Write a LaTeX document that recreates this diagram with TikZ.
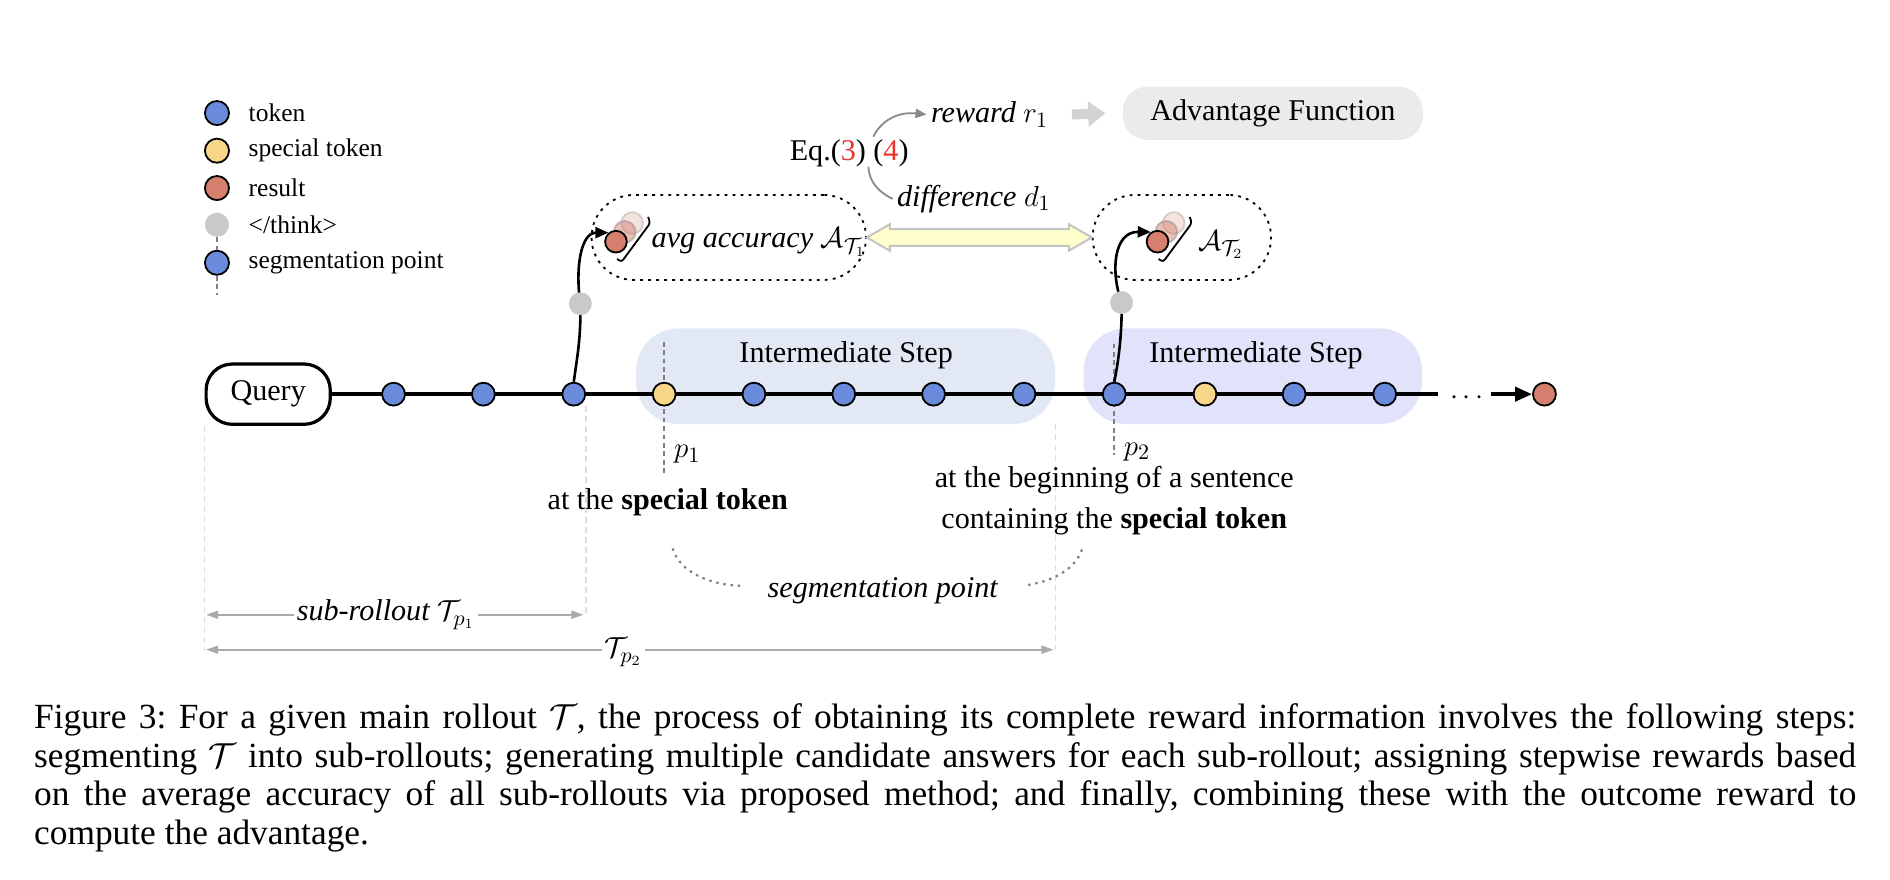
\documentclass[tikz,border=0pt]{standalone}
\usepackage[no-math]{fontspec}
\setmainfont{Liberation Serif}
\usetikzlibrary{arrows.meta,calc}
\definecolor{tokb}{HTML}{6A8ADB}
\definecolor{toky}{HTML}{F7D68A}
\definecolor{tokr}{HTML}{D57F6E}
\definecolor{thinkc}{HTML}{C9C9C9}
\definecolor{box1c}{HTML}{E3E9F4}
\definecolor{box2c}{HTML}{E1E3FA}
\definecolor{advc}{HTML}{EBEBEB}
\definecolor{yfill}{HTML}{FFFFCC}
\definecolor{ydraw}{HTML}{C4C4C4}
\definecolor{arcc}{HTML}{8A8A8A}
\definecolor{dimc}{HTML}{AAAAAA}
\definecolor{vdashc}{HTML}{DDDDDD}
\definecolor{pdashc}{HTML}{808080}
\definecolor{eqred}{HTML}{E8322B}
\definecolor{blockc}{HTML}{D3D3D3}
\newcommand\diafont{\fontsize{15pt}{18pt}\selectfont}
\newcommand\diafonttwo{\fontsize{15pt}{20.5pt}\selectfont}
\newcommand\legfont{\fontsize{12.7pt}{15pt}\selectfont}
\newcommand\capfont{\fontsize{17.6pt}{19.4pt}\selectfont\frenchspacing}
\begin{document}
\begin{tikzpicture}[x=0.6pt,y=-0.6pt,
 tok/.style={circle,draw=black,line width=0.9pt,inner sep=0pt,minimum size=11.4pt},
 tb/.style={tok,fill=tokb}, ty/.style={tok,fill=toky}, tr/.style={tok,fill=tokr},
 thk/.style={circle,fill=thinkc,inner sep=0pt,minimum size=11.4pt},
 legc/.style={circle,draw=black,line width=0.9pt,inner sep=0pt,minimum size=12pt},
 legt/.style={anchor=west,inner sep=0pt,font=\legfont},
 txt/.style={font=\diafont,inner sep=2pt},
 stepbg/.style={rounded corners=21pt,inner sep=0pt,minimum height=47.6pt},
 dotbox/.style={draw=black,line width=0.9pt,dash pattern=on 1.4pt off 2.6pt,rounded corners=21pt,minimum height=42.3pt,inner sep=0pt},
 pline/.style={draw=pdashc,line width=0.9pt,dash pattern=on 2.4pt off 1.8pt},
 vline/.style={draw=vdashc,line width=0.9pt,dash pattern=on 3pt off 2pt},
 dimarr/.style={draw=dimc,line width=0.9pt,{Triangle[length=6pt,width=4pt]}-{Triangle[length=6pt,width=4pt]}},
 curvearr/.style={draw=black,line width=1.3pt,-{Triangle[length=6.5pt,width=5.5pt]}},
 arcg/.style={draw=arcc,line width=0.9pt},
 segdot/.style={draw=pdashc,line width=1.1pt,dash pattern=on 1.2pt off 2.4pt},
 redback/.style={circle,inner sep=0pt,minimum size=10.8pt,line width=0.9pt,fill=tokr,fill opacity=0.22,draw=black!45,draw opacity=0.35},
 redmid/.style={circle,inner sep=0pt,minimum size=10.8pt,line width=0.9pt,fill=tokr,fill opacity=0.5,draw=black!45,draw opacity=0.5},
 redfront/.style={circle,inner sep=0pt,minimum size=10.8pt,line width=0.9pt,fill=tokr,draw=black},
 brk/.style={draw=black,line width=0.9pt,rounded corners=1.5pt},
]
\useasboundingbox (0,0) rectangle (1568,730);

% ---------- legend ----------
\node[legc,fill=tokb] (lg1) at (180,93.8) {};
\node[legt] (lg1t) at (206,93.8) {token};
\node[legc,fill=toky] (lg2) at (180,125) {};
\node[legt] (lg2t) at (206,125) {special token};
\node[legc,fill=tokr] (lg3) at (180,156) {};
\node[legt] (lg3t) at (206,156) {result};
\node[circle,fill=thinkc,inner sep=0pt,minimum size=12pt] (lg4) at (180,186.5) {};
\node[legt] (lg4t) at (206,186.5) {</think>};
\node[legc,fill=tokb] (lg5) at (180,218) {};
\node[legt] (lg5t) at (206,218) {segmentation point};
\draw[pline] (lg4.south) -- (lg5.north);
\draw[pline] (lg5.south) -- ++(0,16);

% ---------- step backgrounds ----------
\node[stepbg,fill=box1c,minimum width=208.6pt] (ib1) at (701.55,312.1) {};
\node[stepbg,fill=box2c,minimum width=168.4pt] (ib2) at (1039.35,312.1) {};
\node[txt] (ib1t) at (702,294.5) {Intermediate Step};
\node[txt] (ib2t) at (1042,294.5) {Intermediate Step};

% ---------- query ----------
\node[draw,line width=1.6pt,rounded corners=13pt,minimum width=61.8pt,minimum height=30pt,inner sep=0pt,font=\diafont] (q) at (222.5,327) {Query};

% ---------- light vertical guides ----------
\draw[vline] (q.south west) -- ++(0,187);
\coordinate (v2) at (486,337);
\draw[vline] (v2) -- ++(0,173);
\draw[vline] (ib1.south east) -- ++(0,187);

% ---------- p dashed lines ----------
\coordinate (p1top) at (550.8,283.5);
\coordinate (p2top) at (924.4,285);
\draw[pline] (p1top) -- ++(0,108.5);
\draw[pline] (p2top) -- ++(0,92.5);
\node[txt,anchor=west,inner sep=0pt] (p1) at (559,377) {$p_1$};
\node[txt,anchor=west,inner sep=0pt] (p2) at (932,375) {$p_2$};

% ---------- main line ----------
\coordinate (lend) at (1193,327);
\draw[line width=2pt] (q.east) -- (lend);
\node[font=\diafont,inner sep=0pt] (dots) at (1217,330) {$\cdots$};
\node[tr] (res) at (1281.3,327) {};
\coordinate (astart) at (1237,327);
\draw[line width=2pt,-{Triangle[length=8.5pt,width=7pt]}] (astart) -- (res.west);

% tokens
\node[tb] (t1) at (326.5,327) {};
\node[tb] (t2) at (401,327) {};
\node[tb] (t3) at (476,327) {};
\node[ty] (s1) at (551,327) {};
\node[tb] (t4) at (625.5,327) {};
\node[tb] (t5) at (700,327) {};
\node[tb] (t6) at (774.5,327) {};
\node[tb] (t7) at (849.5,327) {};
\node[tb] (t8) at (924.4,327) {};
\node[ty] (s2) at (999.7,327) {};
\node[tb] (t9) at (1073.6,327) {};
\node[tb] (t10) at (1148.8,327) {};

% ---------- dotted boxes ----------
\node[dotbox,minimum width=136.6pt] (db1) at (604.6,197) {};
\node[dotbox,minimum width=88.8pt] (db2) at (980.5,197) {};

% red stacks
\node[redback] (r1b) at (524.5,185) {};
\node[redmid] (r1m) at (518.3,192.3) {};
\node[redfront] (r1) at (511,200.5) {};
\node[redback] (r2b) at (973.8,185) {};
\node[redmid] (r2m) at (967.6,192.3) {};
\node[redfront] (r2) at (960.3,200.5) {};
\draw[brk] ($(r1)+(1,14.3)$) -- ++(3.5,2.7) -- ($(r1)+(28.5,-15.5)$) -- ++(-1.8,-5);
\draw[brk] ($(r2)+(1,14.3)$) -- ++(3.5,2.7) -- ($(r2)+(28.5,-15.5)$) -- ++(-1.8,-5);
\node[txt,anchor=west] (acc1) at (537,201) {\textit{avg accuracy} $\mathcal{A}_{\mathcal{T}_1}$};
\node[txt,anchor=west] (acc2) at (990.5,203) {$\mathcal{A}_{\mathcal{T}_2}$};

% ---------- curves up ----------
\coordinate (g1c) at (481.5,252);
\coordinate (g2c) at (930.5,251);
\draw[curvearr] (t3.north) .. controls (479,295) and (482,280) .. (g1c) .. controls (477,222) and (482,193) .. (r1.130);
\draw[curvearr] (t8.north) .. controls (928,300) and (931,275) .. (g2c) .. controls (921,225) and (924,192) .. (r2.125);
\node[thk] (g1) at (g1c) {};
\node[thk] (g2) at (g2c) {};

% ---------- yellow double arrow ----------
\draw[fill=yfill,draw=ydraw,line width=1pt,line join=miter]
  (db1.east) -- ++(19,-11) -- ++(0,4.1) -- ($(db2.west)+(-19,-6.9)$) -- ++(0,-4.1) -- (db2.west)
  -- ++(-19,11) -- ++(0,-4.1) -- ($(db1.east)+(19,6.9)$) -- ++(0,4.1) -- cycle;

% ---------- equation, reward, difference ----------
\node[txt] (eq) at (704.5,127) {Eq.(\textcolor{eqred}{3}) (\textcolor{eqred}{4})};
\node[txt] (rew) at (821,95) {\textit{reward} $r_1$};
\node[txt] (dif) at (808,165) {\textit{difference} $d_1$};
\node[fill=advc,rounded corners=12pt,minimum width=149.4pt,minimum height=26.4pt,inner sep=0pt,font=\diafont] (adv) at (1056,94) {Advantage Function};
\coordinate (eqa) at (724.5,113.4);
\coordinate (eqb) at (720.4,138.3);
\draw[arcg,-{Triangle[length=5.5pt,width=4.5pt]}] (eqa) .. controls (731,100) and (745,92.5) .. (rew.west);
\draw[arcg] (eqb) .. controls (721,150) and (728,159) .. (dif.west);
\draw[draw=blockc,line width=5pt,-{Triangle[length=8.6pt,width=12pt]}] ($(rew.east)+(16,0)$) -- ($(adv.west)+(-14,0)$);

% ---------- bottom labels ----------
\node[txt] (st1) at (554,417) {at the \textbf{special token}};
\node[txt,align=center,font=\diafonttwo] (st2) at (924.4,415.5) {at the beginning of a sentence\\containing the \textbf{special token}};
\node[txt,fill=white] (seg) at (732.6,490) {\textit{segmentation point}};
\coordinate (sa) at (558,455);
\coordinate (sb) at (617.6,486.1);
\coordinate (sc) at (853,485.3);
\coordinate (sd) at (898,455);
\draw[segdot] (sa) .. controls (564,475) and (590,486) .. (sb);
\draw[segdot] (sc) .. controls (878,481) and (893,470) .. (sd);

% ---------- dimension arrows ----------
\coordinate (d1a) at (171,510);
\coordinate (d1b) at (484,510);
\coordinate (d2a) at (171,539);
\coordinate (d2b) at (874,539);
\draw[dimarr] (d1a) -- (d1b);
\draw[dimarr] (d2a) -- (d2b);
\node[txt,fill=white,inner sep=1.5pt] (sr1) at (320,510) {\textit{sub-rollout} $\mathcal{T}_{p_1}$};
\node[txt,fill=white,inner sep=1.5pt] (sr2) at (517,541) {$\mathcal{T}_{p_2}$};

% ---------- caption ----------
\node[anchor=north west,inner sep=0pt,text width=907pt,align=justify,font=\capfont] (cap) at (28,583) {Figure 3: For a given main rollout $\mathcal{T}$, the process of obtaining its complete reward information involves the following steps:\linebreak segmenting $\mathcal{T}$ into sub-rollouts; generating multiple candidate answers for each sub-rollout; assigning stepwise rewards based\linebreak on the average accuracy of all sub-rollouts via proposed method; and finally, combining these with the outcome reward to\linebreak compute the advantage.};
\end{tikzpicture}
\end{document}
